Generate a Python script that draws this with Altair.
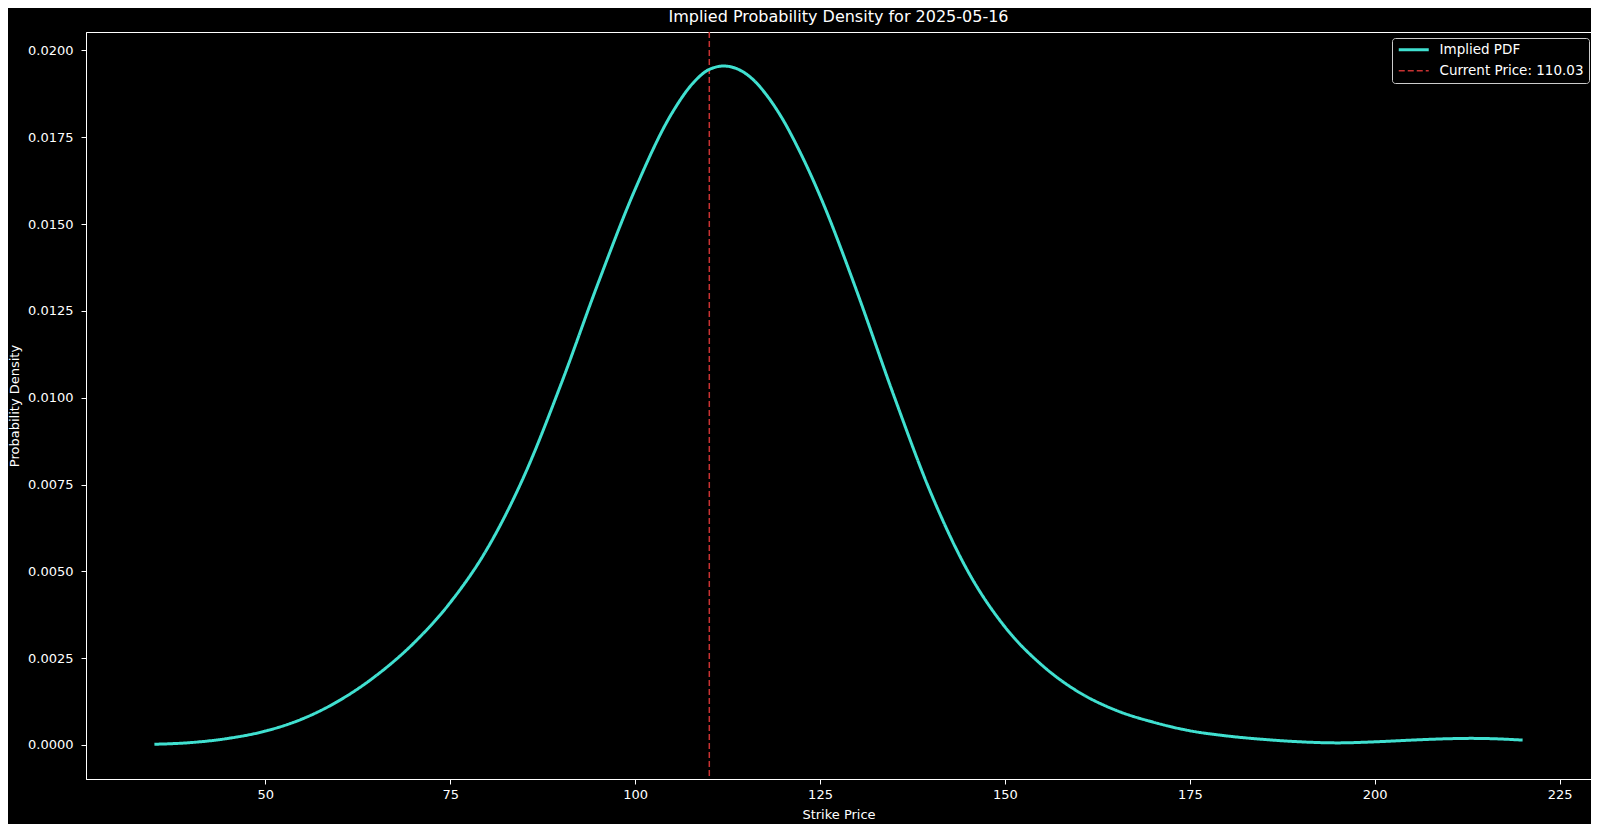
import altair as alt
import pandas as pd

# Values
strike = [35, 40, 45, 50, 55, 60, 65, 70, 75, 80, 85, 90, 95, 100, 105, 108, 110, 112,
          114, 116, 118, 120, 122, 124, 126, 128, 130, 135, 140, 145, 150, 155, 160,
          165, 170, 175, 180, 185, 190, 195, 200, 205, 210, 213, 216, 220]
density = [0.00002, 0.00007, 0.00019, 0.00040, 0.00075, 0.00128, 0.00200, 0.00292,
           0.00410, 0.00565, 0.00775, 0.01040, 0.01330, 0.01600, 0.01820, 0.01910,
           0.01945, 0.01955, 0.01945, 0.01915, 0.01865, 0.01800, 0.01720, 0.01630,
           0.01530, 0.01420, 0.01305, 0.01005, 0.00725, 0.00500, 0.00340, 0.00230,
           0.00152, 0.00100, 0.00066, 0.00041, 0.00026, 0.00016, 0.00009, 0.00006,
           0.00009, 0.00014, 0.00018, 0.00019, 0.00018, 0.00014]
current_price = 110.03
series_names = ["Implied PDF", f"Current Price: {current_price:.2f}"]
x_ticks = [50, 75, 100, 125, 150, 175, 200, 225]
y_ticks = [0.0, 0.0025, 0.005, 0.0075, 0.01, 0.0125, 0.015, 0.0175, 0.02]

CYAN = "#40E0D0"
RED = "#c83232"
FONT = "DejaVu Sans"

curve_df = pd.DataFrame({"strike": strike, "density": density, "series": series_names[0]})
price_df = pd.DataFrame({"strike": [current_price], "series": [series_names[1]]})

x_scale = alt.Scale(domain=[25.75, 229.25], nice=False, zero=False)
y_scale = alt.Scale(domain=[-0.00098, 0.02053], nice=False, zero=False)

color = alt.Color(
    "series:N",
    scale=alt.Scale(domain=series_names, range=[CYAN, RED]),
    legend=alt.Legend(
        title=None, orient="none", legendX=1306, legendY=6,
        symbolType="M-1,0H5", symbolSize=100, labelFontSize=13.5, labelColor="white",
        labelFont=FONT, labelOffset=29, padding=5, rowPadding=6,
        strokeColor="#cccccc", fillColor="black", cornerRadius=3,
    ),
)
dash = alt.StrokeDash(
    "series:N",
    scale=alt.Scale(domain=series_names, range=[[1, 0], [6, 3]]),
    legend=None,
)
width_enc = alt.StrokeWidth(
    "series:N",
    scale=alt.Scale(domain=series_names, range=[3, 1.5]),
    legend=None,
)

x_axis = alt.Axis(values=x_ticks, format="d", title="Strike Price", grid=False)
y_axis = alt.Axis(values=y_ticks, format=".4f", title="Probability Density", grid=False)

curve = alt.Chart(curve_df).mark_line(interpolate="monotone").encode(
    x=alt.X("strike:Q", scale=x_scale, axis=x_axis),
    y=alt.Y("density:Q", scale=y_scale, axis=y_axis),
    color=color,
    strokeDash=dash,
    strokeWidth=width_enc,
)

rule = alt.Chart(price_df).mark_rule().encode(
    x=alt.X("strike:Q", scale=x_scale),
    color=color,
    strokeDash=dash,
    strokeWidth=width_enc,
)

chart = alt.layer(rule, curve).properties(
    width=1505,
    height=747,
    background="black",
    autosize=alt.AutoSizeParams(type="none"),
    padding={"left": 78, "top": 24, "right": 0, "bottom": 45},
    title=alt.TitleParams(
        "Implied Probability Density for 2025-05-16",
        color="white", font=FONT, fontSize=16, fontWeight="normal",
        anchor="middle", offset=6,
    ),
).configure_view(
    stroke="white", strokeWidth=1, fill="black"
).configure_axis(
    domainColor="white", domainWidth=1, tickColor="white", tickSize=5, tickWidth=1,
    labelColor="white", labelFont=FONT, labelFontSize=13,
    titleColor="white", titleFont=FONT, titleFontSize=13, titleFontWeight="normal",
).configure_axisX(
    labelPadding=4, titlePadding=7,
).configure_axisY(
    labelPadding=8, titlePadding=6,
)

chart.save("out.html", embed_options={"renderer": "svg", "actions": False})
